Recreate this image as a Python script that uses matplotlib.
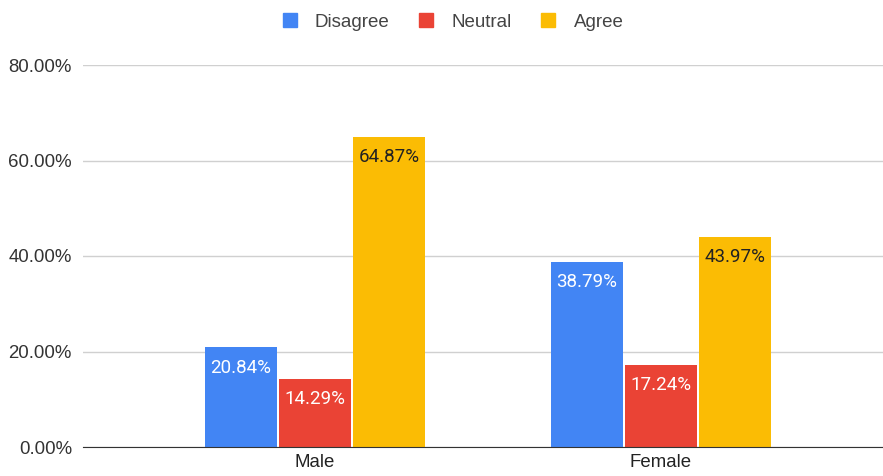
import matplotlib
matplotlib.use("Agg")
import matplotlib.pyplot as plt
from matplotlib.lines import Line2D
from matplotlib.ticker import FuncFormatter
import numpy as np

plt.rcParams['font.family'] = ['Liberation Sans', 'DejaVu Sans']

categories = ["Male", "Female"]
series = ["Disagree", "Neutral", "Agree"]
disagree = [20.84, 38.79]
neutral = [14.29, 17.24]
agree = [64.87, 43.97]
values = [disagree, neutral, agree]
colors = ["#4285F4", "#EA4335", "#FBBC04"]
label_colors = ["white", "white", "#222222"]
yticks = [0, 20, 40, 60, 80]

W, H = 883, 476
fig = plt.figure(figsize=(W / 100, H / 100), dpi=100)
ax = fig.add_axes([83 / W, (H - 447) / H, (W - 83) / W, (447 - 65) / H])

x = np.arange(len(categories))
width = 0.208
step = 0.214
for i, (name, vals, col, lc) in enumerate(zip(series, values, colors, label_colors)):
    pos = x + (i - 1) * step
    ax.bar(pos, vals, width=width, color=col, zorder=3, label=name)
    for p, v in zip(pos, vals):
        ax.annotate(f"{v:.2f}%", (p, v), xytext=(0, -8), textcoords="offset points",
                    ha="center", va="top", color=lc, fontsize=13.5,
                    family=["Roboto", "DejaVu Sans"], zorder=4)

ax.set_xlim(-0.6705, 1.6416)
ax.set_ylim(0, 80)
ax.set_yticks(yticks)
ax.yaxis.set_major_formatter(FuncFormatter(lambda v, _: f"{v:.2f}%"))
ax.set_xticks(x)
ax.set_xticklabels(categories)
ax.grid(axis="y", color="#d0d0d0", linewidth=1, zorder=0)
for s in ["top", "right", "left"]:
    ax.spines[s].set_visible(False)
ax.spines["bottom"].set_color("#333333")
ax.spines["bottom"].set_zorder(5)
ax.tick_params(axis="y", length=0, pad=8, labelsize=13.4, labelcolor="#333333")
ax.tick_params(axis="x", length=0, pad=5, labelsize=13.4, labelcolor="#222222")

handles = [Line2D([], [], marker="s", linestyle="none", markersize=10.5,
                  markerfacecolor=c, markeredgecolor=c) for c in colors]
fig.legend(handles, series, loc="center", bbox_to_anchor=(451 / W, 1 - 22 / H),
           ncol=3, frameon=False, fontsize=13.5, handletextpad=0.75, columnspacing=1.35,
           handlelength=1.2, labelcolor="#444444")

fig.savefig("out.png", dpi=100)
